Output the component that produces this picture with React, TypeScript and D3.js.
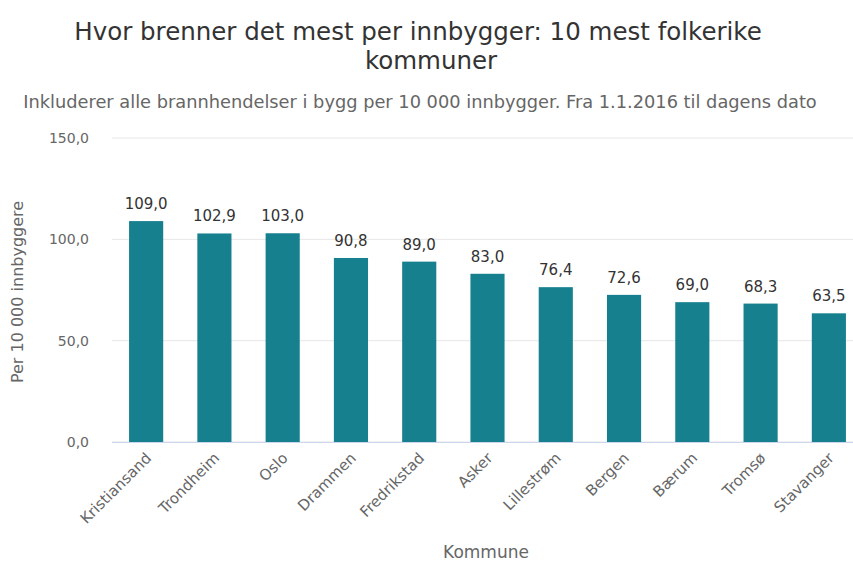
import React from 'react';
import * as d3 from 'd3';

const kommuner = ['Kristiansand', 'Trondheim', 'Oslo', 'Drammen', 'Fredrikstad', 'Asker', 'Lillestrøm', 'Bergen', 'Bærum', 'Tromsø', 'Stavanger'];
const verdier = [109.0, 102.9, 103.0, 90.8, 89.0, 83.0, 76.4, 72.6, 69.0, 68.3, 63.5];
const yTicks = [0, 50, 100, 150];

const W = 853, H = 565;
const font = '"DejaVu Sans", sans-serif';
const fmt = (v: number) => v.toFixed(1).replace('.', ',');

export default function App() {
  const left = 112, right = 863, top = 138, bottom = 442;

  const x = d3.scaleBand().domain(kommuner).range([left, right]).paddingInner(0.5).paddingOuter(0.25);
  const y = d3.scaleLinear().domain([0, 150]).range([bottom, top]);

  return (
    <svg width={W} height={H} style={{ display: 'block', position: 'absolute', left: 0, top: 0 }} fontFamily={font}>
      <rect width={W} height={H} fill="#fff" />
      <text x={418} y={40} textAnchor="middle" fontSize={24.5} fill="#333">
        Hvor brenner det mest per innbygger: 10 mest folkerike
      </text>
      <text x={431} y={69} textAnchor="middle" fontSize={24.5} fill="#333">kommuner</text>
      <text x={420} y={108} textAnchor="middle" fontSize={17.8} fill="#666">
        Inkluderer alle brannhendelser i bygg per 10 000 innbygger. Fra 1.1.2016 til dagens dato
      </text>

      {yTicks.map(t => (
        <g key={t}>
          <line x1={left} x2={W} y1={y(t)} y2={y(t)} stroke="#e6e6e6" />
          <text x={89} y={y(t) + 5} textAnchor="end" fontSize={14} fill="#666">{fmt(t)}</text>
        </g>
      ))}

      <text transform={`translate(23,${(top + bottom) / 2 + 2}) rotate(-90)`} textAnchor="middle" fontSize={16} fill="#666">
        Per 10 000 innbyggere
      </text>

      {kommuner.map((k, i) => (
        <g key={k}>
          <rect x={x(k)} y={y(verdier[i])} width={x.bandwidth()} height={bottom - y(verdier[i])} fill="#17808f" />
          <text x={x(k)! + x.bandwidth() / 2} y={y(verdier[i]) - 12} textAnchor="middle" fontSize={15} fill="#333">
            {fmt(verdier[i])}
          </text>
          <text transform={`translate(${x(k)! + x.bandwidth() / 2 + 6},${bottom + 17}) rotate(-45)`} textAnchor="end" fontSize={15} fill="#666">
            {k}
          </text>
        </g>
      ))}
      <line x1={left} x2={W} y1={bottom + 0.5} y2={bottom + 0.5} stroke="#ccd6eb" />

      <text x={486} y={558} textAnchor="middle" fontSize={17} fill="#666">Kommune</text>
    </svg>
  );
}
